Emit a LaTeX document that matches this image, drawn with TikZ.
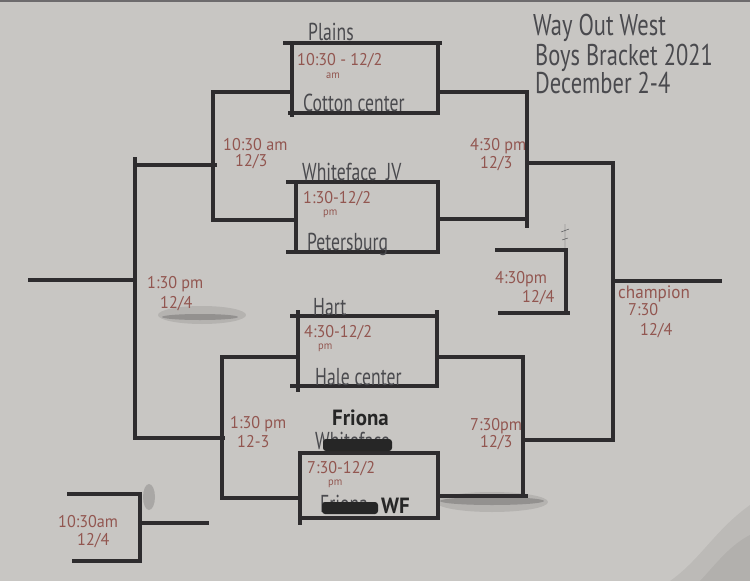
\documentclass[tikz,border=0pt]{standalone}
\usepackage{fontspec}
\newfontfamily\handzeit[FakeStretch=0.95]{PT Sans}
\newfontfamily\handteam[FakeStretch=0.72]{PT Sans}
\newfontfamily\handtitel[FakeStretch=0.75]{PT Sans}
\definecolor{papier}{RGB}{200,198,195}
\definecolor{tinte}{RGB}{46,44,46}
\definecolor{rotbraun}{RGB}{146,86,80}
\definecolor{bleistift}{RGB}{74,74,78}
\begin{document}
\begin{tikzpicture}[x=1pt,y=-1pt]
	\tikzset{linie/.style={line width=4pt, draw=tinte, line join=miter},
		kasten/.style={rectangle, line width=4pt, draw=tinte, inner sep=0, outer sep=0},
		zeit/.style={text=rotbraun, anchor=base west, inner sep=0, font=\handzeit\fontsize{17}{17}\selectfont},
		klein/.style={zeit, font=\handzeit\fontsize{11}{11}\selectfont},
		team/.style={text=bleistift, anchor=base west, inner sep=0, font=\handteam\fontsize{24.5}{24.5}\selectfont},
		fett/.style={text=black!85, anchor=base west, inner sep=0, font=\handzeit\bfseries\fontsize{22}{22}\selectfont},
		titel/.style={text=bleistift, anchor=base west, inner sep=0, font=\handtitel\fontsize{30}{30}\selectfont},
		schmutz/.style={fill=tinte, opacity=0.25}}

	\fill[papier] (0,0) rectangle (750,581);
	\useasboundingbox (0,0) rectangle (750,581);
	\fill[black, opacity=0.06] (670,581) .. controls (700,560) and (715,530) .. (750,505) -- (750,581) -- cycle;
	\fill[black, opacity=0.05] (700,581) .. controls (715,565) and (730,545) .. (750,535) -- (750,581) -- cycle;
	\fill[tinte!70] (0,0) rectangle (750,2);

\node[kasten, minimum width=146pt, minimum height=70pt] at (365,78) (g1) {};
\node[kasten, minimum width=142pt, minimum height=70pt] at (367,217) (g2) {};
\node[kasten, minimum width=139pt, minimum height=70pt] at (367.5,351) (g3) {};
\node[kasten, minimum width=138pt, minimum height=65pt] at (369,485.5) (g4) {};
			\draw [linie] (g1.north west) -- ++(-9,0);
			\draw [linie] (g1.north east) -- ++(4,0);
			\draw [linie] (g1.south west) -- ++(-4,0);
			\draw [linie] (g1.south west) -- ++(0,4);
			\draw [linie] (g2.north west) -- ++(-10,0);
			\draw [linie] (g2.south west) -- ++(-10,0);
			\draw [linie] (g3.north west) -- ++(-8,0);
			\draw [linie] (g3.south west) -- ++(-8,0);
			\draw [linie] (g3.north west) -- ++(0,-6);
			\draw [linie] (g3.south west) -- ++(0,6);
			\draw [linie] (g3.north east) -- ++(0,-6);
			\draw [linie] (g4.south west) -- ++(0,7);

\coordinate (w1t) at (213,92);
\coordinate (w1b) at (213,220);
\coordinate (w1m) at (217,165);
\coordinate (w2t) at (222,357);
\coordinate (w2b) at (222,498);
\coordinate (w2m) at (225,438);
\coordinate (L1t) at (135,165);
\coordinate (L1b) at (135,438);
\coordinate (L1m) at (135,280);
\coordinate (e0) at (28,280);
\coordinate (e1t) at (527,92);
\coordinate (e1b) at (527,219);
\coordinate (e1m) at (527,163);
\coordinate (e2t) at (523,357);
\coordinate (e2b) at (523,496);
\coordinate (e2m) at (523,440);
\coordinate (c1t) at (613,163);
\coordinate (c1b) at (613,440);
\coordinate (c1m) at (613,281);
\coordinate (champ) at (722,281);
\coordinate (k0t) at (495,250);
\coordinate (k1t) at (566,250);
\coordinate (k1b) at (566,313);
\coordinate (k0b) at (498,313);
\coordinate (b0t) at (67,494);
\coordinate (b1t) at (140,494);
\coordinate (b1b) at (140,561);
\coordinate (b0b) at (72,561);
\coordinate (b1m) at (140,523);
\coordinate (b2) at (209,523);
			\draw [linie] (g1.west |- w1t) -- (w1t) -- (w1b) -- (g2.west |- w1b);
			\draw [linie] (g3.west |- w2t) -- (w2t) -- (w2b) -- (g4.west |- w2b);
			\draw [linie] (w1m) -- (L1t) -- (L1b) -- (w2m);
			\draw [linie] (L1t) -- ++(0,-8);
			\draw [linie] (L1m) -- (e0);
			\draw [linie] (g1.east |- e1t) -- (e1t) -- (e1b) -- (g2.east |- e1b);
			\draw [linie] (e1b) -- ++(0,9);
			\draw [linie] (g3.east |- e2t) -- (e2t) -- (e2b) -- (g4.east |- e2b);
			\draw [linie] (e2b) -- ++(5,0);
			\draw [linie] (e1m) -- (c1t) -- (c1b) -- (e2m);
			\draw [linie] (c1m) -- (champ);
			\draw [linie] (k0t) -- (k1t) -- (k1b) -- ++(4,0) (k1b) -- (k0b);
			\draw [linie] (b0t) -- (b1t) -- (b1b) -- (b0b);
			\draw [linie] (b1m) -- (b2);

	\fill[schmutz] (200,317) ellipse [x radius=38, y radius=3];
	\fill[schmutz, opacity=0.12] (202,315) ellipse [x radius=44, y radius=9];
	\fill[schmutz] (492,501) ellipse [x radius=52, y radius=4];
	\fill[schmutz, opacity=0.12] (492,502) ellipse [x radius=56, y radius=10];
	\fill[schmutz, opacity=0.2] (149,497) ellipse [x radius=6, y radius=13];
	\draw[bleistift, thin] (565,248) -- (565,224) (561,232) -- (569,229) (562,240) -- (568,238);

\node[titel] at (533,35) (t1) {Way Out West};
\node[titel] at (535,65) (t2) {Boys Bracket 2021};
\node[titel] at (535,93) (t3) {December 2-4};

\node[team] at (308,40) (n1) {Plains};
\node[team] at (303,111) (n2) {Cotton center};
\node[team] at (302,180) (n3) {Whiteface\ \ JV};
\node[team] at (307,250) (n4) {Petersburg};
\node[team] at (313,315) (n5) {Hart};
\node[team] at (315,385) (n6) {Hale center};
\node[fett] at (332,425) (n7) {Friona};
\node[team] at (315,449) (n8) {Whiteface};
\node[team] at (320,512) (n9) {Friona};
	\fill[black!85, rounded corners=3pt] (323,439) rectangle (392,451);
	\fill[black!85, rounded corners=3pt] (322,502) rectangle (378,514);
\node[fett] at (381,513) (n10) {WF};

\node[zeit] at (297,65) (z1) {10:30 - 12/2};
\node[klein] at (326,78) (z1a) {am};
\node[zeit] at (303,203) (z2) {1:30-12/2};
\node[klein] at (323,215) (z2a) {pm};
\node[zeit] at (304,337) (z3) {4:30-12/2};
\node[klein] at (318,349) (z3a) {pm};
\node[zeit] at (307,473) (z4) {7:30-12/2};
\node[klein] at (328,485) (z4a) {pm};
\node[zeit] at (223,150) (z5) {10:30 am};
\node[zeit] at (235,166) (z5a) {12/3};
\node[zeit] at (230,428) (z6) {1:30 pm};
\node[zeit] at (237,447) (z6a) {12-3};
\node[zeit] at (470,150) (z7) {4:30 pm};
\node[zeit] at (480,168) (z7a) {12/3};
\node[zeit] at (470,430) (z8) {7:30pm};
\node[zeit] at (480,447) (z8a) {12/3};
\node[zeit] at (147,288) (z9) {1:30 pm};
\node[zeit] at (160,308) (z9a) {12/4};
\node[zeit] at (495,283) (z10) {4:30pm};
\node[zeit] at (522,302) (z10a) {12/4};
\node[zeit, font=\handzeit\fontsize{18}{18}\selectfont] at (618,298) (z11) {champion};
\node[zeit] at (628,315) (z11a) {7:30};
\node[zeit] at (640,335) (z11b) {12/4};
\node[zeit] at (58,527) (z12) {10:30am};
\node[zeit] at (77,545) (z12a) {12/4};
		\end{tikzpicture}
\end{document}
